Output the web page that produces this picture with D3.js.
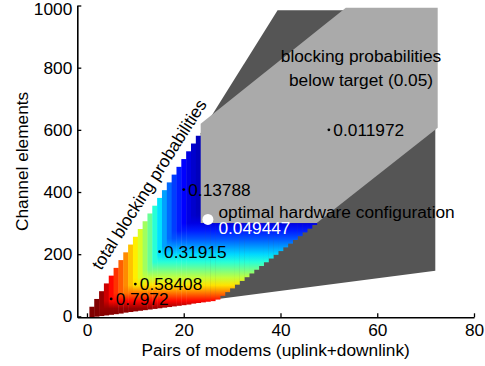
<!DOCTYPE html>
<html><head><meta charset="utf-8">
<script src="https://cdn.jsdelivr.net/npm/d3@7"></script>
<style>body{margin:0;background:#fff} svg text{font-family:"Liberation Sans",Arial,Helvetica,sans-serif}</style>
</head><body><svg id="c" width="485" height="366"></svg>
<script>
// ---- data ----
const modemPairs = [1,2,3,4,5,6,7,8,9,10,11,12,13,14,15,16,17,18,19,20,21,22,23,24,25,26,27,28,29,30,31,32,33,34,35,36,37,38,39,40,41,42,43,44,45,46,47];
const minChannelElements = [2,4,6,8,10,12,14,17,19,21,23,25,27,29,31,33,35,37,39,41,43,46,48,50,52,54,59,71,83,95,107,119,131,143,155,167,179,191,203,215,227,239,251,263,275,287,299];
const maxChannelElements = [25,50,75,100,125,150,175,200,225,250,275,300,325,350,375,400,425,450,475,500,525,550,575,300,300,300,300,300,300,300,300,300,300,300,300,300,300,300,300,300,300,300,300,300,300,300,300];
const modemBlocking = [0.97,0.94,0.90,0.85,0.80,0.76,0.72,0.68,0.63,0.59,0.54,0.49,0.44,0.38,0.32,0.26,0.21,0.17,0.14,0.115,0.09,0.07,0.055,0.045,0.04,0.035,0.03,0.025,0.02,0.015,0.012,0.01,0.009,0.008,0.007,0.006,0.005,0.005,0.004,0.004,0.003,0.003,0.003,0.002,0.002,0.002,0.002];
const ceLevels = [0,25,50,75,100,125,150,175,200,225,250,275,300,325,350,375,400,425,450,475,500,525,550,575,600];
const ceBlocking = [0.99,0.9,0.8,0.7,0.6,0.52,0.45,0.38,0.31,0.25,0.19,0.14,0.09,0.06,0.045,0.035,0.025,0.02,0.015,0.012,0.01,0.008,0.006,0.005,0.004];
const xTicks = [0,20,40,60,80];
const yTicks = [0,200,400,600,800,1000];
const feasibleRegion = [[23.5,49],[23.5,589],[39.4,985],[72,985],[72,147]];
const targetRegion = [[23.5,300],[23.5,620],[53.5,993],[72.5,993],[72.5,607],[47.5,300]];
const annotations = [
  {n:5, c:56, label:"0.7972"},
  {n:10, c:104, label:"0.58408"},
  {n:15, c:208, label:"0.31915"},
  {n:20, c:408, label:"0.13788"},
  {n:50, c:600, label:"0.011972"}
];
const optimal = {n:25, c:312, label:"optimal hardware configuration", value:"0.049447"};

// ---- drawing ----
const svg = d3.select("#c");
const x = d3.scaleLinear().domain([-2,80]).range([77.3,474]);
const y = d3.scaleLinear().domain([-3,1000]).range([317.3,5.5]);
const FS = "17.3px";

function clamp(v){return Math.max(0,Math.min(1,v));}
function jet(p){
  const t = clamp(p/0.92);
  const r = clamp(Math.min(4*t-1.5,-4*t+4.5));
  const g = clamp(Math.min(4*t-0.5,-4*t+3.5));
  const b = clamp(Math.min(4*t+0.5,-4*t+2.5));
  return d3.rgb(r*255,g*255,b*255).formatHex();
}

const line = d3.line().x(d=>x(d[0])).y(d=>y(d[1]));
svg.append("path").attr("d", line(feasibleRegion)+"Z").attr("fill","#555555");

const defs = svg.append("defs");
modemPairs.forEach((n,i)=>{
  const grad = defs.append("linearGradient").attr("id","g"+n)
    .attr("gradientUnits","userSpaceOnUse").attr("x1",0).attr("x2",0)
    .attr("y1",y(0)).attr("y2",y(600));
  ceLevels.forEach((c,k)=>{
    grad.append("stop").attr("offset",c/600)
      .attr("stop-color", jet(Math.max(modemBlocking[i], ceBlocking[k])));
  });
  const lo = minChannelElements[i]-5;
  const hi = maxChannelElements[i] + (n<=23 ? 6 : 0);
  svg.append("rect")
    .attr("x", x(n-0.5)).attr("width", x(n+0.5)-x(n-0.5)+0.4)
    .attr("y", y(hi)).attr("height", y(lo)-y(hi))
    .attr("fill","url(#g"+n+")");
});

svg.append("path").attr("d", line(targetRegion)+"Z").attr("fill","#aaaaaa");

// axes
const xAxis = d3.axisBottom(x).tickValues(xTicks).tickFormat(d3.format("d")).tickSizeInner(-4).tickSizeOuter(0).tickPadding(6);
const yAxis = d3.axisLeft(y).tickValues(yTicks).tickFormat(d3.format("d")).tickSizeInner(-4).tickSizeOuter(0).tickPadding(5);
const gx = svg.append("g").attr("transform",`translate(0,${y(-3)})`).call(xAxis);
const gy = svg.append("g").attr("transform",`translate(${x(-2)},0)`).call(yAxis);
[gx,gy].forEach(g=>{
  g.select(".domain").attr("stroke","#000").attr("stroke-width",1.6);
  g.selectAll(".tick line").attr("stroke","#000").attr("stroke-width",1.3);
  g.selectAll("text").attr("fill","#000").style("font-size",FS).style("font-family",'"Liberation Sans",Arial,sans-serif');
});
gy.selectAll(".tick text").filter(d=>d===1000).attr("dy","0.5em");

svg.append("text").attr("x",(x(-2)+x(80))/2).attr("y",356).attr("text-anchor","middle")
  .style("font-size",FS).text("Pairs of modems (uplink+downlink)");
svg.append("text").attr("transform",`translate(28,${(y(-3)+y(1000))/2}) rotate(-90)`)
  .attr("text-anchor","middle").style("font-size",FS).text("Channel elements");

svg.append("text").attr("transform","translate(101,271) rotate(-57.5)")
  .style("font-size",FS).text("total blocking probabilities");

svg.append("text").attr("x",361).attr("y",62).attr("text-anchor","middle").style("font-size",FS).text("blocking probabilities");
svg.append("text").attr("x",361).attr("y",86).attr("text-anchor","middle").style("font-size",FS).text("below target (0.05)");

annotations.forEach(a=>{
  svg.append("circle").attr("cx",x(a.n)).attr("cy",y(a.c)).attr("r",1.4).attr("fill","#000");
  svg.append("text").attr("x",x(a.n)+4.5).attr("y",y(a.c)+6).style("font-size",FS).text(a.label);
});

svg.append("circle").attr("cx",x(optimal.n)).attr("cy",y(optimal.c)).attr("r",5.5).attr("fill","#fff");
svg.append("text").attr("x",x(optimal.n)+10.5).attr("y",y(optimal.c)-1.5).style("font-size",FS).text(optimal.label);
svg.append("text").attr("x",x(optimal.n)+10.5).attr("y",y(optimal.c)+15).attr("fill","#fff").style("font-size",FS).text(optimal.value);
</script></body></html>
